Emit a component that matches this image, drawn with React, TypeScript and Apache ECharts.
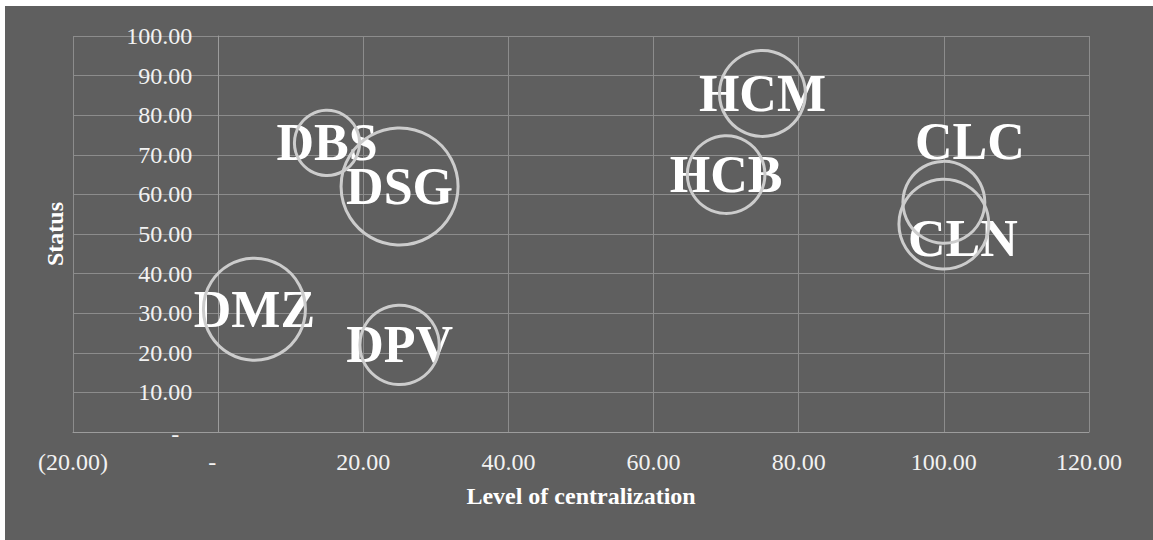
import React, { useEffect, useRef } from "react";
import * as echarts from "echarts";

// ---- data ----
const names = ["DBS", "DSG", "DMZ", "DPV", "HCM", "HCB", "CLC", "CLN"];
const centralization = [15, 25, 5, 25, 75, 70, 100, 100];
const statusValues = [73, 62, 31, 22, 85.5, 65, 58, 52.5];
const bubbleSizes = [31, 100, 76, 46, 54, 44, 49, 59];

const xAxisTitle = "Level of centralization";
const yAxisTitle = "Status";

const X_MIN = -20;
const X_MAX = 120;

const SERIF = "'Liberation Serif', 'Times New Roman', serif";
const MAX_DIAMETER = 117;

const GRID = { left: 68, right: 64, top: 30, bottom: 108 };
const CHART_W = 1148;
const CHART_H = 534;

const labelOffsets: Record<string, [number, number]> = {
  CLC: [26, -61],
  CLN: [19, 14],
};

function fmt(v: number): string {
  if (v === 0) return "{z|-}";
  const s = Math.abs(v).toFixed(2);
  return v < 0 ? "(" + s + ")" : s;
}

export default function App() {
  const ref = useRef<HTMLDivElement>(null);

  useEffect(() => {
    if (!ref.current) return;
    const chart = echarts.init(ref.current, undefined, { renderer: "svg" });
    const data = names.map((n, i) => [centralization[i], statusValues[i], bubbleSizes[i], n]);

    const labelData = data.map((d) => ({
      value: d,
      label: { offset: labelOffsets[d[3] as string] || [0, 0] },
    }));

    // place the y axis where x = 0 (as in the reference)
    const plotW = CHART_W - GRID.left - GRID.right;
    const zeroOffset = -((0 - X_MIN) / (X_MAX - X_MIN)) * plotW;

    chart.setOption({
      animation: false,
      backgroundColor: "#5f5f5f",
      grid: { ...GRID, outerBoundsMode: "none" },
      xAxis: {
        type: "value",
        min: X_MIN,
        max: X_MAX,
        interval: 20,
        name: xAxisTitle,
        nameLocation: "middle",
        nameGap: 52,
        nameTextStyle: { color: "#ffffff", fontFamily: SERIF, fontSize: 24, fontWeight: "bold" },
        axisLine: { show: true, onZero: false, lineStyle: { color: "#9c9c9c", width: 1 } },
        axisTick: { show: false },
        axisLabel: {
          color: "#f2f2f2",
          fontFamily: SERIF,
          fontSize: 24,
          margin: 18,
          formatter: fmt,
          rich: { z: { color: "#f2f2f2", fontFamily: SERIF, fontSize: 24, padding: [0, 12, 0, 0] } },
        },
        splitLine: { show: true, lineStyle: { color: "#8c8c8c", width: 1 } },
      },
      yAxis: {
        type: "value",
        min: 0,
        max: 100,
        interval: 10,
        offset: zeroOffset,
        name: yAxisTitle,
        nameLocation: "middle",
        nameGap: 151,
        nameTextStyle: { color: "#ffffff", fontFamily: SERIF, fontSize: 24, fontWeight: "bold" },
        axisLine: { show: true, onZero: false, lineStyle: { color: "#9c9c9c", width: 1 } },
        axisTick: { show: false },
        axisLabel: {
          color: "#f2f2f2",
          fontFamily: SERIF,
          fontSize: 24,
          margin: 26,
          formatter: fmt,
          rich: { z: { color: "#f2f2f2", fontFamily: SERIF, fontSize: 24, padding: [4, 13, 0, 0] } },
        },
        splitLine: { show: true, lineStyle: { color: "#8c8c8c", width: 1 } },
      },
      series: [
        {
          type: "scatter",
          name: "labels",
          z: 2,
          symbol: "circle",
          symbolSize: 2,
          itemStyle: { color: "rgba(0,0,0,0)", opacity: 1 },
          silent: true,
          data: labelData,
          label: {
            show: true,
            position: "inside",
            formatter: (p: any) => p.value[3],
            color: "#ffffff",
            fontFamily: SERIF,
            fontSize: 52,
            fontWeight: "bold",
            textBorderWidth: 0,
          },
        },
        {
          type: "scatter",
          name: "bubbles",
          z: 3,
          data,
          symbol: "circle",
          symbolSize: (v: number[]) => MAX_DIAMETER * Math.sqrt(v[2] / 100),
          itemStyle: { color: "rgba(0,0,0,0)", borderColor: "#cccccc", borderWidth: 3, opacity: 1 },
          label: { show: false },
        },
      ],
    });
    return () => chart.dispose();
  }, []);

  return (
    <div style={{ position: "fixed", left: 0, top: 0, width: 1153, height: 540, background: "#ffffff" }}>
      <div ref={ref} style={{ position: "absolute", left: 5, top: 6, width: CHART_W, height: CHART_H }} />
    </div>
  );
}
